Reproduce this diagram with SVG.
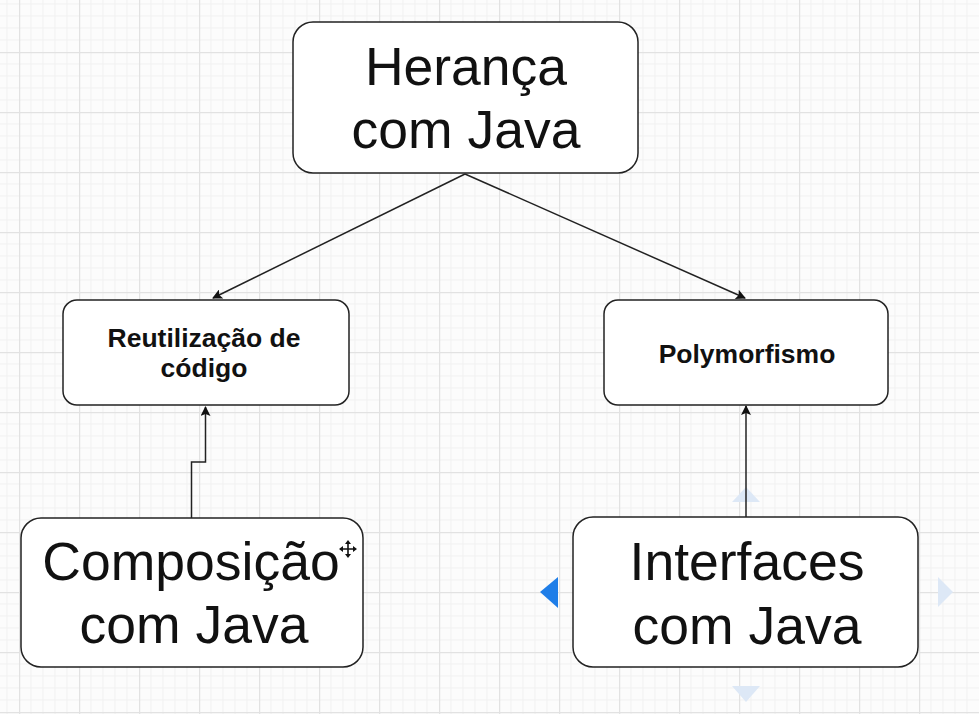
<svg xmlns="http://www.w3.org/2000/svg" width="979" height="714" viewBox="0 0 979 714">
<defs>
<pattern id="grid" x="19" y="52" width="60" height="60" patternUnits="userSpaceOnUse">
<path d="M12 0V60M24 0V60M36 0V60M48 0V60M0 12H60M0 24H60M0 36H60M0 48H60" stroke="#f1f1f1" stroke-width="1" fill="none"/>
<path d="M0.5 0V60M0 0.5H60" stroke="#e2e2e2" stroke-width="1.5" fill="none"/>
</pattern>
<marker id="arr" viewBox="0 0 10 10" refX="9" refY="5" markerWidth="11" markerHeight="10" markerUnits="userSpaceOnUse" orient="auto">
<path d="M0 0L10 5L0 10L2 5Z" fill="#111"/>
</marker>
</defs>
<style>
.box{fill:#fff;stroke:#222;stroke-width:1.5}
.big{font-family:"Liberation Sans",Arial,sans-serif;font-size:53.5px;fill:#111;text-anchor:middle}
.small{font-family:"Liberation Sans",Arial,sans-serif;font-size:26.5px;font-weight:bold;fill:#111;text-anchor:middle}
.edge{stroke:#222;stroke-width:1.5;fill:none;marker-end:url(#arr)}
</style>
<rect width="979" height="714" fill="#fcfcfc"/>
<rect width="979" height="714" fill="url(#grid)"/>
<g id="handles">
<path d="M540 592L558 577L558 608Z" fill="#1f7ee8"/>
<path d="M746 487L760 502L732 502Z" fill="#dde8f6"/>
<path d="M953 592L938 577L938 607Z" fill="#dde8f6"/>
<path d="M746 702L760 686L732 686Z" fill="#dde8f6"/>
</g>
<g id="connectors">
<path class="edge" d="M465 174L213 298"/>
<path class="edge" d="M465 174L745 298"/>
<path class="edge" d="M191.5 518V462H205.5V407"/>
<path class="edge" d="M746 517V406"/>
</g>
<g id="heranca">
<rect class="box" x="293" y="22" width="345" height="151" rx="20"/>
<text class="big" x="466" y="85">Herança</text>
<text class="big" x="466" y="148">com Java</text>
</g>
<g id="reutilizacao">
<rect class="box" x="63" y="300" width="286" height="105" rx="14"/>
<text class="small" x="204" y="347">Reutilização de</text>
<text class="small" x="204" y="377">código</text>
</g>
<g id="polymorfismo">
<rect class="box" x="604" y="300" width="284" height="105" rx="14"/>
<text class="small" x="747" y="363">Polymorfismo</text>
</g>
<g id="composicao">
<rect class="box" x="21" y="518" width="342" height="149" rx="20"/>
<text class="big" x="191" y="580">Composição</text>
<text class="big" x="194" y="643">com Java</text>
</g>
<g id="interfaces">
<rect class="box" x="573" y="517" width="345" height="150" rx="20"/>
<text class="big" x="747" y="580">Interfaces</text>
<text class="big" x="747" y="644">com Java</text>
</g>
<g id="cursor" fill="#111" stroke="#111">
<path d="M348 543V555M342 549H354" stroke-width="1.6" fill="none"/>
<path d="M348 540L351 544H345Z M348 558L351 554H345Z M339 549L343 546V552Z M357 549L353 546V552Z" stroke="none"/>
</g>
</svg>
